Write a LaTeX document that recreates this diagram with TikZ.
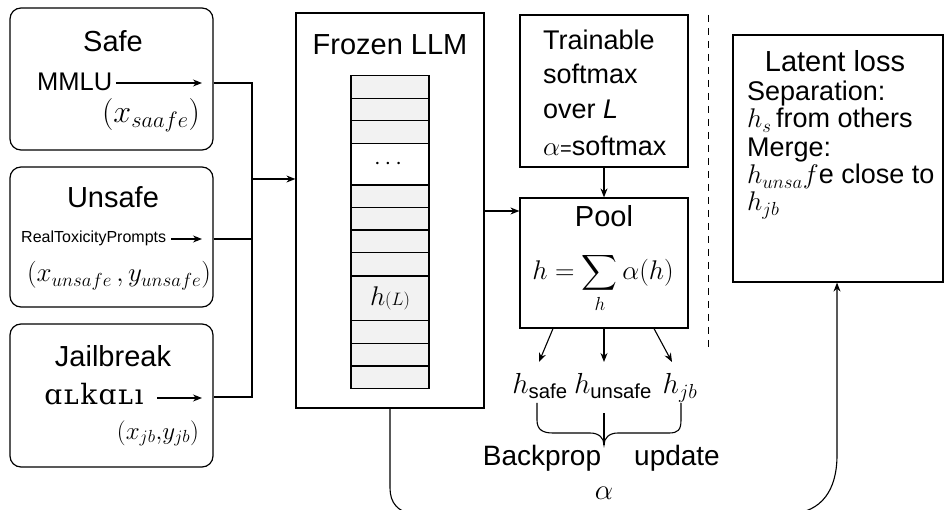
\RequirePackage{fix-cm}
\documentclass[tikz,border=0pt]{standalone}
\usepackage{amsmath}
\usepackage{fontspec}
\setmainfont{Liberation Sans}
\newfontfamily\alkfont[LetterSpace=5]{DejaVu Serif}
\usetikzlibrary{arrows.meta,calc}
\definecolor{layergray}{HTML}{F2F2F2}
\newcommand\fs[1]{\fontsize{#1}{#1}\selectfont}
\begin{document}
\begin{tikzpicture}[x=1pt,y=-1pt,
  bx/.style={draw,line width=1.2pt,inner sep=0pt},
  rbx/.style={bx,rounded corners=11pt},
  arr/.style={-{Stealth[length=9pt,width=7pt]},line width=1.1pt},
  ln/.style={line width=1.1pt},
  txt/.style={inner sep=0pt,anchor=base},
  hd/.style={txt,font=\fs{29}},
  bd/.style={txt,font=\fs{27},anchor=base west},
  mth/.style={txt,font=\fs{27}},
  layer/.style={draw,line width=1.1pt,fill=layergray,minimum width=78pt,inner sep=0pt}
]
\useasboundingbox (0,0) rectangle (945,510);

% input boxes
\node[rbx,minimum width=203pt,minimum height=142pt] (safe) at (111.5,79) {};
\node[rbx,minimum width=203pt,minimum height=140pt] (unsafe) at (111.5,237) {};
\node[rbx,minimum width=203pt,minimum height=143pt] (jail) at (111.5,395.5) {};

\node[hd] (tsafe) at (113,52) {Safe};
\node[txt,font=\fs{25.5},anchor=base west] (mmlu) at (37,91) {MMLU};
\coordinate (safeout) at (202,83);
\draw[arr] (mmlu.east |- safeout) ++(4,0) -- (safeout);
\node[mth,font=\fs{32}] (xs) at (151,123) {$(x_{saafe})$};

\node[hd] (tunsafe) at (113,208) {Unsafe};
\node[txt,font=\fs{16},anchor=base west] (rtp) at (21,243) {RealToxicityPrompts};
\coordinate (unsout) at (202,239);
\draw[arr] (rtp.east |- unsout) ++(5,0) -- (unsout);
\node[mth] (xu) at (119,282) {$(x_{unsafe}\,,y_{unsafe})$};

\node[hd] (tjail) at (113,367) {Jailbreak};
\node[txt,font=\alkfont\fs{28},anchor=base] (alk) at (94,405) {ɑʟkɑʟı};
\coordinate (jailout) at (202,398);
\draw[arr] (157,398) -- (jailout);
\node[mth,font=\fs{25}] (xj) at (158,439) {$(x_{jb}{,}y_{jb})$};

% merge lines
\coordinate (j1) at (252,83);
\coordinate (j2) at (252,239);
\coordinate (j3) at (252,397);
\coordinate (jm) at (252,179);
\draw[ln] (safe.east |- j1) -- (j1) -- (j3) -- (jail.east |- j3);
\draw[ln] (unsafe.east |- j2) -- (j2);

% frozen LLM
\node[bx,minimum width=188pt,minimum height=395pt] (llm) at (390,210.5) {};
\node[hd] (tllm) at (390,55) {Frozen LLM};
\draw[arr] (jm) -- (jm -| llm.west);

\foreach \a/\b [count=\i] in {75.3/98.3,98.3/120.7,120.7/143.3,185/207.3,207.3/230,230/252.7,252.7/276,276/320.7,320.7/343.3,343.3/366,366/388.3}
  \node[layer,minimum height={(\b-\a)*1pt}] (L\i) at (390,{(\a+\b)/2}) {};
\node[layer,fill=white,minimum height=41.7pt] (Ldots) at (390,164.15) {};
\node[font=\fs{24}] at (Ldots) {$\cdots$};
\node[font=\fs{27}] at (L8) {$h${\fs{18}$(L)$}};

% trainable + pool
\node[bx,minimum width=168pt,minimum height=152pt] (train) at (604,91) {};
\node[bd] (tr1) at (543,50) {Trainable};
\node[bd] (tr2) at (543,84) {softmax};
\node[bd] (tr3) at (543,119) {over \textit{L}};
\node[bd] (tr4) at (543,156) {$\alpha${\fs{20}=}softmax};

\node[bx,minimum width=168pt,minimum height=130pt] (pool) at (604,263) {};
\node[hd] (tpool) at (604,227) {Pool};
\node[mth] (form) at (603,280) {$\displaystyle h=\sum_{h}\alpha(h)$};
\draw[arr] (train.south) -- (pool.north);
\coordinate (a1) at (500,211);
\draw[arr] (llm.east |- a1) -- (pool.west |- a1);

% separator
\coordinate (s1) at (708,15);
\coordinate (s2) at (708,347);
\draw[line width=1pt,dash pattern=on 7pt off 6pt] (s1) -- (s2);

% outputs
\node[mth,font=\fs{29}] (hs) at (540,394) {$h_{\text{safe}}$};
\node[mth,font=\fs{29}] (hu) at (613,394) {$h_{\text{unsafe}}$};
\node[mth,font=\fs{29}] (hj) at (680,394) {$h_{jb}$};
\coordinate (o1) at (539,362);
\coordinate (o2) at (604,362);
\coordinate (o3) at (672,362);
\draw[arr] (pool.south -| 553,0) -- (o1);
\draw[arr] (pool.south) -- (o2);
\draw[arr] (pool.south -| 654,0) -- (o3);

% brace
\coordinate (btip) at (604,445);
\draw[ln] (537,403) -- (537,420) .. controls (537,430) and (543,433) .. (553,433) -- (590,433)
  .. controls (599,433) and (604,438) .. (btip)
  .. controls (604,438) and (609,433) .. (618,433) -- (669,433)
  .. controls (678,433) and (681,430) .. (681,420) -- (681,403);
\coordinate (bt) at (604,413);
\draw[ln] (bt) -- (btip);
\node[hd,font=\fs{28}] (bp) at (542,465) {Backprop};
\node[hd,font=\fs{28}] (upd) at (677,465) {update};
\node[mth,font=\fs{29}] (alph) at (604,499) {$\alpha$};

% latent loss
\node[bx,minimum width=210pt,minimum height=247pt] (latent) at (838,158.5) {};
\node[hd] (tlat) at (835,72) {Latent loss};
\node[bd] (l1) at (747,101) {Separation:};
\node[bd] (l2) at (747,128) {$h_s$\,from others};
\node[bd] (l3) at (747,157) {Merge:};
\node[bd] (l4) at (747,184) {$h_{unsa}f\mathrm{e}$ close to};
\node[bd] (l5) at (747,211) {$h_{jb}$};

% feedback curve
\draw[arr] (llm.south) -- (390,488) .. controls (390,503) and (398,512) .. (413,514)
  -- (790,514) .. controls (822,512) and (837,490) .. (837,455) -- (latent.south -| 837,0);
\end{tikzpicture}
\end{document}
